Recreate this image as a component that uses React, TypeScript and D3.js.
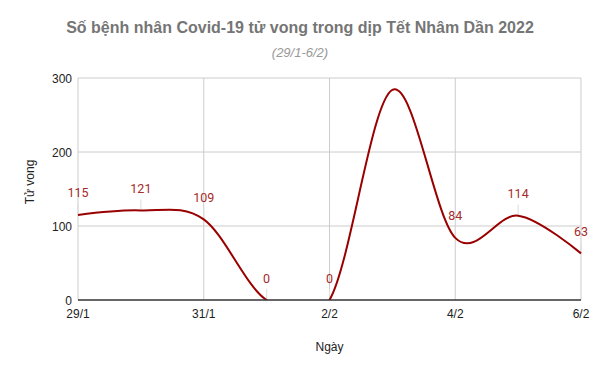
import React from 'react';
import * as d3 from 'd3';

const days = ['29/1', '30/1', '31/1', '1/2', '2/2', '3/2', '4/2', '5/2', '6/2'];
const deaths = [115, 121, 109, 0, 0, 284, 84, 114, 63];
const xTicks = ['29/1', '31/1', '2/2', '4/2', '6/2'];
const yTicks = [0, 100, 200, 300];

const W = 600;
const H = 371;
const margin = { top: 78, right: 19, bottom: 71, left: 78 };

const App: React.FC = () => {
    const x = d3.scalePoint<string>()
        .domain(days)
        .range([margin.left, W - margin.right]);

    const y = d3.scaleLinear()
        .domain([0, 300])
        .range([H - margin.bottom, margin.top]);

    const line = d3.line<number>()
        .x((d, i) => x(days[i])!)
        .y(d => y(d))
        .curve(d3.curveCardinal.tension(0));

    const lineColor = '#990000';
    const plotTop = y(300);
    const plotBottom = y(0);

    return (
        <svg width={W} height={H} style={{ position: 'absolute', left: 0, top: 0 }}
            fontFamily="'Liberation Sans', Arial, sans-serif">
            <defs>
                <clipPath id="plot">
                    <rect x={x(days[0])! - 2} y={plotTop - 20} width={W} height={plotBottom - plotTop + 20} />
                </clipPath>
            </defs>
            <rect width={W} height={H} fill="#fff" />

            <text x={W / 2} y={33} textAnchor="middle" fontSize={16} fontWeight="bold" fill="#757575">
                Số bệnh nhân Covid-19 tử vong trong dịp Tết Nhâm Dần 2022
            </text>
            <text x={W / 2} y={57} textAnchor="middle" fontSize={13} fontStyle="italic" fill="#999">
                (29/1-6/2)
            </text>

            {/* grid */}
            {yTicks.filter(t => t > 0).map(t => (
                <line key={'h' + t} x1={margin.left} x2={W - margin.right} y1={y(t)} y2={y(t)} stroke="#ccc" />
            ))}
            {xTicks.map(t => (
                <line key={'v' + t} x1={x(t)} x2={x(t)} y1={plotTop} y2={plotBottom} stroke="#ccc" />
            ))}

            {/* y labels */}
            {yTicks.map(t => (
                <text key={'yl' + t} x={margin.left - 6} y={y(t) + 4.5} textAnchor="end" fontSize={12} fill="#222">{t}</text>
            ))}
            {/* x labels */}
            {xTicks.map(t => (
                <text key={'xl' + t} x={x(t)} y={plotBottom + 18} textAnchor="middle" fontSize={12} fill="#222">{t}</text>
            ))}

            <text x={(margin.left + W - margin.right) / 2} y={351} textAnchor="middle" fontSize={12} fill="#222">Ngày</text>
            <text transform={`translate(34, ${(plotTop + plotBottom) / 2 - 7}) rotate(-90)`} textAnchor="middle" fontSize={12} fill="#222">Tử vong</text>

            {/* stems */}
            {deaths.map((v, i) => (
                y(v) - 26 < plotTop ? null :
                    <line key={'s' + i} x1={x(days[i])} x2={x(days[i])} y1={y(v)} y2={y(v) - 11} stroke="#ddd" />
            ))}

            <path d={line(deaths)!} fill="none" stroke={lineColor} strokeWidth={2} clipPath="url(#plot)" />

            <line x1={margin.left} x2={W - margin.right} y1={plotBottom} y2={plotBottom} stroke="#333" strokeWidth={1.5} />

            {/* data labels */}
            {deaths.map((v, i) => (
                y(v) - 26 < plotTop ? null :
                    <text key={'d' + i} x={x(days[i])} y={y(v) - 17.5} textAnchor="middle" fontSize={12.5}
                        fontFamily="Roboto, sans-serif" fill="#a52a2a">{v}</text>
            ))}
        </svg>
    );
};

export default App;
